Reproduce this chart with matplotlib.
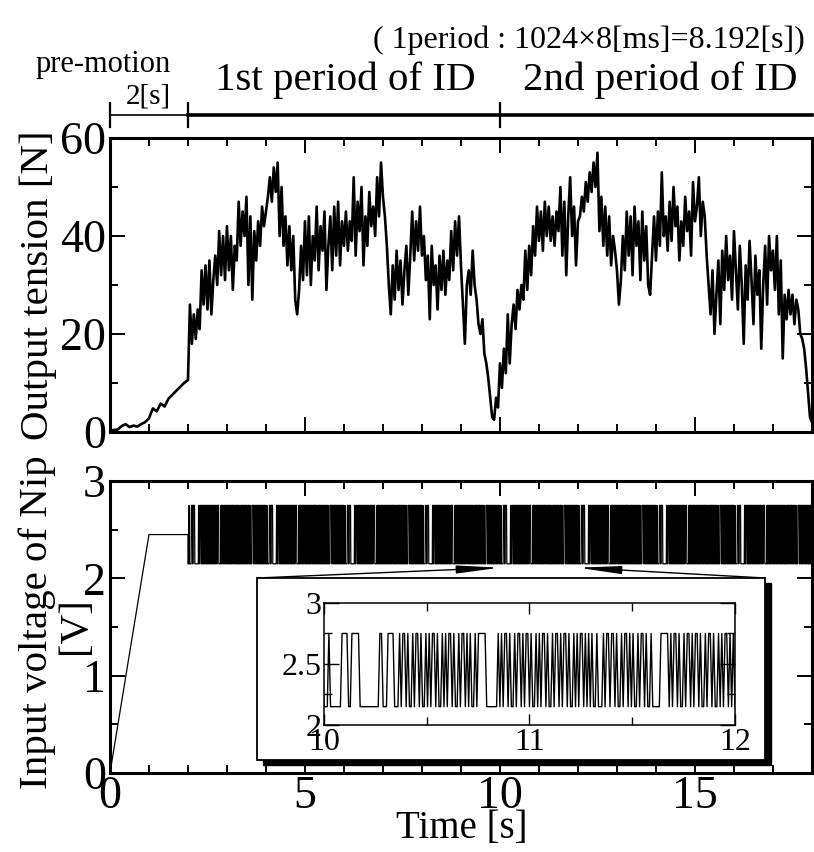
import matplotlib.pyplot as plt
import numpy as np
from matplotlib import transforms
from matplotlib.patches import Rectangle

plt.rcParams['font.family'] = ['Liberation Serif', 'DejaVu Serif']

# output tension, pre-motion part (0.1 s steps from 0 s)
pre_time = [0.0, 0.1, 0.2, 0.3, 0.4, 0.5, 0.6, 0.7, 0.8, 0.9, 1.0,
            1.1, 1.2, 1.3, 1.4, 1.5, 1.6, 1.7, 1.8, 1.9, 2.0]
pre_tension = [0.3, 0.4, 0.5, 1.2, 1.6, 1.0, 1.3, 1.1, 1.6, 2.0, 2.8,
               4.8, 4.2, 5.8, 5.2, 6.8, 7.6, 8.4, 9.2, 10.0, 10.6]

# output tension during identification, read every 0.05 s from 2.05 s to 18.00 s
id_start = 2.05
id_step = 0.05
id_tension = [
    26, 18, 24, 19, 25, 21, 33, 26, 34, 25, 35, 24, 31, 36, 30, 41, 32, 40, 31, 42,
    33, 40, 29, 38, 35, 47, 38, 45, 40, 48, 30, 44, 27, 41, 35, 43, 38, 46, 42, 45,
    48, 52, 47, 54, 49, 55, 40, 50, 38, 44, 34, 42, 33, 40, 27, 24, 29, 38, 31, 43,
    32, 44, 30, 40, 35, 46, 33, 42, 37, 45, 29, 38, 44, 33, 46, 36, 47, 34, 43, 38,
    45, 37, 43, 39, 52, 36, 47, 41, 50, 34, 44, 38, 49, 42, 46, 40, 52, 44, 55, 48,
    44, 38, 30, 24, 34, 27, 37, 29, 35, 26, 33, 38, 28, 36, 45, 35, 43, 37, 46, 36,
    40, 31, 36, 23, 38, 30, 34, 25, 36, 29, 37, 28, 35, 31, 41, 33, 43, 36, 44, 34,
    26, 18, 30, 33, 28, 37, 30, 27, 22, 20, 23, 16, 14, 11, 7, 3, 2.5, 7, 5, 14,
    9, 17, 12, 24, 14, 22, 26, 21, 29, 25, 30, 27, 37, 29, 38, 32, 42, 36, 46, 39,
    45, 37, 47, 40, 46, 39, 44, 38, 45, 41, 50, 36, 47, 32, 44, 52, 40, 46, 34, 43,
    44, 48, 45, 51, 47, 53, 49, 55, 50, 57, 41, 48, 38, 46, 36, 44, 34, 40, 37, 33,
    26, 31, 40, 33, 45, 36, 44, 32, 46, 38, 43, 31, 45, 35, 42, 30, 28, 36, 44, 35,
    45, 38, 53, 40, 44, 37, 47, 39, 50, 42, 46, 35, 43, 38, 48, 41, 45, 36, 51, 43,
    46, 52, 40, 47, 44, 36, 30, 24, 33, 20, 28, 35, 22, 37, 29, 40, 31, 36, 27, 41,
    33, 25, 38, 30, 18, 34, 27, 39, 31, 22, 36, 28, 33, 17, 30, 38, 26, 40, 33, 37,
    29, 40, 24, 35, 15, 28, 23, 29, 24, 28, 22, 27, 25, 20, 19, 17, 13, 8, 3, 2,
]

# input voltage: pre-motion ramp, then the binary identification signal (8 ms per bit)
volt_pre_time = [0.0, 1.0, 2.0]
volt_pre = [0.0, 2.45, 2.45]
volt_low = 2.15
volt_high = 2.75
bit_step = 0.008
id_end = 18.0
# bit pattern; it repeats through the identification span
prbs_bits = ("0001000000011110011111000000000000110001111000"
             "10110100101101001010110100101011010010110101001011"
             "1110000000"
             "1010110100101101011010010101101001011010110100101011010"
             "101001000101"
             "1011010010110101001011010010"
             "0000"
             "11111"
             "0101101001011010110100101101001010"
             "110101")

id_time = id_start + id_step * np.arange(len(id_tension))
tension_t = np.concatenate([pre_time, id_time])
tension = np.concatenate([pre_tension, id_tension])

n_bits = int(round((id_end - 2.0) / bit_step))
bits = np.resize(np.array([int(b) for b in prbs_bits]), n_bits)
prbs_t = 2.0 + bit_step * np.arange(n_bits)
prbs_v = np.where(bits == 1, volt_high, volt_low)
volt_t = np.concatenate([volt_pre_time, prbs_t])
volt = np.concatenate([volt_pre, prbs_v])

fig = plt.figure(figsize=(8.14, 8.52), dpi=100)
ax1 = fig.add_axes([0.1351, 0.493, 0.8624, 0.345])
ax2 = fig.add_axes([0.1351, 0.0927, 0.8624, 0.3427])

tick_size = 33
for ax in (ax1, ax2):
    for s in ax.spines.values():
        s.set_linewidth(2.2)
    ax.set_xlim(0, 18)
    ax.set_xticks([0, 5, 10, 15])
    ax.set_xticks(np.arange(0, 19, 1), minor=True)
    ax.tick_params(which='both', direction='in', top=True, right=True,
                   labelsize=tick_size, width=1.4)
    ax.tick_params(which='major', length=11, pad=3)
    ax.tick_params(which='minor', length=5.5)

ax1.plot(tension_t, tension, color='black', lw=1.9)
ax1.set_ylim(0, 60)
ax1.set_yticks([0, 20, 40, 60])
ax1.set_yticks(np.arange(0, 61, 10), minor=True)
ax1.tick_params(labelbottom=False)

ax2.plot(volt_t, volt, color='black', lw=0.9)
ax2.set_ylim(0, 3)
ax2.set_yticks([0, 1, 2, 3])
ax2.set_yticks(np.arange(0, 3.01, 0.5), minor=True)
ax2.tick_params(axis='x', pad=2)

fig.text(0.0467, 0.6655, 'Output tension [N]', rotation=90, ha='center', va='center', fontsize=29.5)
fig.text(0.0455, 0.27, 'Input voltage of Nip', rotation=90, ha='center', va='center', fontsize=29.5)
fig.text(0.093, 0.266, '[V]', rotation=90, ha='center', va='center', fontsize=29.5)
fig.text(0.5676, 0.017, 'Time [s]', ha='center', va='baseline', fontsize=28)

# period annotation above the top panel
blend = transforms.blended_transform_factory(ax1.transData, fig.transFigure)
bar_y = 0.865
ax1.plot([0, 2], [bar_y, bar_y], color='black', lw=1.2, transform=blend, clip_on=False)
ax1.plot([2, 18], [bar_y, bar_y], color='black', lw=2.6, transform=blend, clip_on=False)
for xt in (0, 2, 10):
    ax1.plot([xt, xt], [0.851, 0.879], color='black', lw=1.6, transform=blend, clip_on=False)
fig.text(0.989, 0.9437, '( 1period : 1024\u00d78[ms]=8.192[s])', ha='right', va='baseline', fontsize=23)
fig.text(0.1265, 0.9155, 'pre-motion', ha='center', va='baseline', fontsize=22)
fig.text(0.1818, 0.879, '2[s]', ha='center', va='baseline', fontsize=21)
fig.text(0.4238, 0.8944, '1st period of ID', ha='center', va='baseline', fontsize=29.5)
fig.text(0.8108, 0.8944, '2nd period of ID', ha='center', va='baseline', fontsize=29.5)

# inset frame with drop shadow
bx0, by0, bw, bh = 0.3157, 0.108, 0.6241, 0.2136
fig.patches.append(Rectangle((bx0 + 6 / 814, by0 - 5 / 852), bw, bh, transform=fig.transFigure,
                             facecolor='black', edgecolor='black', zorder=5))
fig.patches.append(Rectangle((bx0, by0), bw, bh, transform=fig.transFigure,
                             facecolor='white', edgecolor='black', lw=1.3, zorder=6))

# zoom pointers from the frame corners to the 10-12 s span
for xd, xf in ((10, bx0), (12, bx0 + bw)):
    ax2.annotate('', xy=(xd, 2.11), xycoords='data', xytext=(xf, by0 + bh),
                 textcoords='figure fraction',
                 arrowprops=dict(arrowstyle='-|>,head_length=1.3,head_width=0.12',
                                 color='black', lw=1.0, shrinkA=0, shrinkB=0,
                                 mutation_scale=20))

axi = fig.add_axes([0.398, 0.1491, 0.5049, 0.1432], zorder=7)
axi.plot(volt_t, volt, color='black', lw=1.0)
axi.set_xlim(10, 12)
axi.set_ylim(2, 3)
axi.set_xticks([10, 11, 12])
axi.set_xticks([10.5, 11.5], minor=True)
axi.set_yticks([2, 2.5, 3])
axi.set_yticklabels(['2', '2.5', '3'])
axi.set_yticks([2.25, 2.75], minor=True)
for s in axi.spines.values():
    s.set_linewidth(1.1)
axi.tick_params(which='both', direction='in', top=True, right=True, labelsize=23, width=1.0)
axi.tick_params(which='major', length=8, pad=2)
axi.tick_params(axis='y', which='major', length=11)
axi.tick_params(which='minor', length=6)

fig.savefig('out.png', dpi=100)
